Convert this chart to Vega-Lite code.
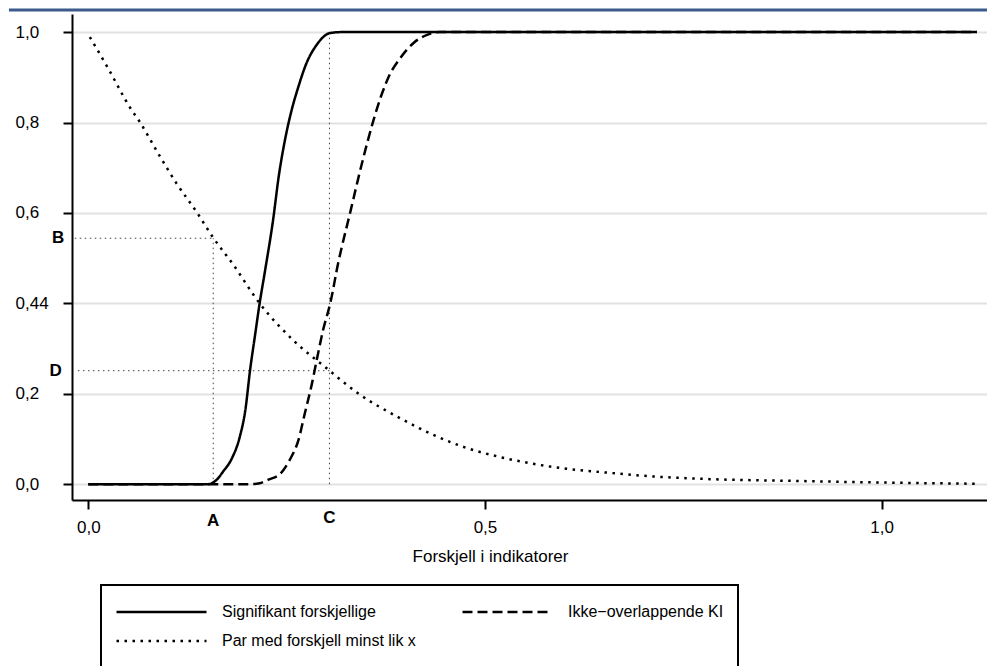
{
  "$schema": "https://vega.github.io/schema/vega-lite/v6.json",
  "width": 915,
  "height": 486,
  "autosize": {"type": "none"},
  "padding": {"left": 72, "top": 14, "right": 0, "bottom": 166},
  "background": "white",
  "config": {
    "font": "Liberation Sans",
    "view": {"stroke": null},
    "legend": {
      "orient": "none",
      "legendX": 29,
      "legendY": 571,
      "columns": 2,
      "symbolType": "stroke",
      "symbolSize": 8100,
      "symbolStrokeWidth": 2.5,
      "symbolStrokeColor": "black",
      "clipHeight": 26,
      "rowPadding": 3,
      "columnPadding": 45,
      "labelFont": "Liberation Sans",
      "labelFontSize": 16,
      "labelColor": "black",
      "labelOffset": 14,
      "labelLimit": 0,
      "padding": 14,
      "strokeColor": "black",
      "strokeWidth": 2
    }
  },
  "datasets": {
    "curves": [
      {"series": "Signifikant forskjellige", "x": 0.0, "y": 0.0},
      {"series": "Signifikant forskjellige", "x": 0.151, "y": 0.0},
      {"series": "Signifikant forskjellige", "x": 0.162, "y": 0.01},
      {"series": "Signifikant forskjellige", "x": 0.170, "y": 0.028},
      {"series": "Signifikant forskjellige", "x": 0.181, "y": 0.057},
      {"series": "Signifikant forskjellige", "x": 0.191, "y": 0.105},
      {"series": "Signifikant forskjellige", "x": 0.198, "y": 0.164},
      {"series": "Signifikant forskjellige", "x": 0.204, "y": 0.253},
      {"series": "Signifikant forskjellige", "x": 0.210, "y": 0.327},
      {"series": "Signifikant forskjellige", "x": 0.216, "y": 0.400},
      {"series": "Signifikant forskjellige", "x": 0.223, "y": 0.474},
      {"series": "Signifikant forskjellige", "x": 0.233, "y": 0.585},
      {"series": "Signifikant forskjellige", "x": 0.240, "y": 0.680},
      {"series": "Signifikant forskjellige", "x": 0.248, "y": 0.762},
      {"series": "Signifikant forskjellige", "x": 0.256, "y": 0.825},
      {"series": "Signifikant forskjellige", "x": 0.265, "y": 0.880},
      {"series": "Signifikant forskjellige", "x": 0.275, "y": 0.931},
      {"series": "Signifikant forskjellige", "x": 0.288, "y": 0.972},
      {"series": "Signifikant forskjellige", "x": 0.305, "y": 0.998},
      {"series": "Signifikant forskjellige", "x": 0.320, "y": 1.0},
      {"series": "Signifikant forskjellige", "x": 1.120, "y": 1.0},
      {"series": "Ikke−overlappende KI", "x": 0.0, "y": 0.0},
      {"series": "Ikke−overlappende KI", "x": 0.205, "y": 0.0},
      {"series": "Ikke−overlappende KI", "x": 0.216, "y": 0.002},
      {"series": "Ikke−overlappende KI", "x": 0.227, "y": 0.010},
      {"series": "Ikke−overlappende KI", "x": 0.242, "y": 0.023},
      {"series": "Ikke−overlappende KI", "x": 0.254, "y": 0.054},
      {"series": "Ikke−overlappende KI", "x": 0.265, "y": 0.098},
      {"series": "Ikke−overlappende KI", "x": 0.273, "y": 0.157},
      {"series": "Ikke−overlappende KI", "x": 0.282, "y": 0.223},
      {"series": "Ikke−overlappende KI", "x": 0.288, "y": 0.275},
      {"series": "Ikke−overlappende KI", "x": 0.296, "y": 0.341},
      {"series": "Ikke−overlappende KI", "x": 0.305, "y": 0.400},
      {"series": "Ikke−overlappende KI", "x": 0.315, "y": 0.489},
      {"series": "Ikke−overlappende KI", "x": 0.330, "y": 0.600},
      {"series": "Ikke−overlappende KI", "x": 0.345, "y": 0.710},
      {"series": "Ikke−overlappende KI", "x": 0.359, "y": 0.802},
      {"series": "Ikke−overlappende KI", "x": 0.369, "y": 0.858},
      {"series": "Ikke−overlappende KI", "x": 0.380, "y": 0.906},
      {"series": "Ikke−overlappende KI", "x": 0.393, "y": 0.942},
      {"series": "Ikke−overlappende KI", "x": 0.410, "y": 0.976},
      {"series": "Ikke−overlappende KI", "x": 0.427, "y": 0.994},
      {"series": "Ikke−overlappende KI", "x": 0.443, "y": 1.0},
      {"series": "Ikke−overlappende KI", "x": 1.120, "y": 1.0},
      {"series": "Par med forskjell minst lik x", "x": 0.002, "y": 0.989},
      {"series": "Par med forskjell minst lik x", "x": 0.025, "y": 0.920},
      {"series": "Par med forskjell minst lik x", "x": 0.053, "y": 0.832},
      {"series": "Par med forskjell minst lik x", "x": 0.065, "y": 0.801},
      {"series": "Par med forskjell minst lik x", "x": 0.088, "y": 0.732},
      {"series": "Par med forskjell minst lik x", "x": 0.111, "y": 0.666},
      {"series": "Par med forskjell minst lik x", "x": 0.137, "y": 0.601},
      {"series": "Par med forskjell minst lik x", "x": 0.156, "y": 0.549},
      {"series": "Par med forskjell minst lik x", "x": 0.183, "y": 0.485},
      {"series": "Par med forskjell minst lik x", "x": 0.216, "y": 0.400},
      {"series": "Par med forskjell minst lik x", "x": 0.258, "y": 0.319},
      {"series": "Par med forskjell minst lik x", "x": 0.300, "y": 0.257},
      {"series": "Par med forskjell minst lik x", "x": 0.340, "y": 0.201},
      {"series": "Par med forskjell minst lik x", "x": 0.393, "y": 0.146},
      {"series": "Par med forskjell minst lik x", "x": 0.435, "y": 0.109},
      {"series": "Par med forskjell minst lik x", "x": 0.477, "y": 0.080},
      {"series": "Par med forskjell minst lik x", "x": 0.519, "y": 0.060},
      {"series": "Par med forskjell minst lik x", "x": 0.561, "y": 0.045},
      {"series": "Par med forskjell minst lik x", "x": 0.603, "y": 0.034},
      {"series": "Par med forskjell minst lik x", "x": 0.645, "y": 0.027},
      {"series": "Par med forskjell minst lik x", "x": 0.704, "y": 0.018},
      {"series": "Par med forskjell minst lik x", "x": 0.771, "y": 0.012},
      {"series": "Par med forskjell minst lik x", "x": 0.897, "y": 0.007},
      {"series": "Par med forskjell minst lik x", "x": 1.023, "y": 0.003},
      {"series": "Par med forskjell minst lik x", "x": 1.118, "y": 0.001}
    ],
    "refs": [
      {"x1": 0.1575, "x2": 0.1575, "y1": 0.0, "y2": 0.544},
      {"x1": -0.017, "x2": 0.1575, "y1": 0.544, "y2": 0.544},
      {"x1": 0.304, "x2": 0.304, "y1": 0.0, "y2": 1.0},
      {"x1": -0.013, "x2": 0.304, "y1": 0.251, "y2": 0.251}
    ],
    "letters": [
      {"label": "A", "x": 0.1575, "y": -0.081},
      {"label": "C", "x": 0.304, "y": -0.075},
      {"label": "B", "x": -0.038, "y": 0.544},
      {"label": "D", "x": -0.041, "y": 0.251}
    ],
    "bar": [
      {"x1": -0.1, "x2": 1.14, "y": 1.049}
    ]
  },
  "layer": [
    {
      "data": {"name": "bar"},
      "mark": {"type": "rule", "color": "#3d5a8c", "strokeWidth": 3},
      "encoding": {
        "x": {"field": "x1", "type": "quantitative"},
        "x2": {"field": "x2"},
        "y": {"field": "y", "type": "quantitative"}
      }
    },
    {
      "data": {"name": "refs"},
      "mark": {"type": "rule", "color": "#444444", "strokeWidth": 1, "strokeDash": [1.5, 3.5]},
      "encoding": {
        "x": {"field": "x1", "type": "quantitative"},
        "x2": {"field": "x2"},
        "y": {"field": "y1", "type": "quantitative"},
        "y2": {"field": "y2"}
      }
    },
    {
      "data": {"name": "curves"},
      "mark": {"type": "line", "color": "black", "strokeWidth": 2.5, "interpolate": "monotone"},
      "encoding": {
        "x": {
          "field": "x", "type": "quantitative",
          "scale": {"domain": [-0.0205, 1.1328], "nice": false, "zero": false},
          "axis": {
            "values": [0, 0.5, 1.0],
            "labelExpr": "replace(format(datum.value, '.1f'), '.', ',')",
            "title": "Forskjell i indikatorer",
            "titleFont": "Liberation Sans",
            "titleFontSize": 17,
            "titleFontWeight": "normal",
            "titleColor": "black",
            "titleX": 418,
            "titleY": 61,
            "titleAlign": "center",
            "titleBaseline": "alphabetic",
            "titleAnchor": null,
            "labelFont": "Liberation Sans",
            "labelFontSize": 17,
            "labelColor": "black",
            "labelPadding": 10,
            "tickSize": 9,
            "tickWidth": 2,
            "tickColor": "black",
            "domainColor": "black",
            "domainWidth": 2,
            "grid": false
          }
        },
        "y": {
          "field": "y", "type": "quantitative",
          "scale": {"domain": [-0.035, 1.04], "nice": false, "zero": false},
          "axis": {
            "values": [0, 0.2, 0.4, 0.6, 0.8, 1.0],
            "labelExpr": "datum.value > 0.39 && datum.value < 0.41 ? '0,44' : replace(format(datum.value, '.1f'), '.', ',')",
            "title": null,
            "labelFont": "Liberation Sans",
            "labelFontSize": 17,
            "labelColor": "black",
            "labelAlign": "left",
            "labelPadding": 48,
            "tickSize": 9,
            "tickWidth": 2,
            "tickColor": "black",
            "domainColor": "black",
            "domainWidth": 2,
            "grid": true,
            "gridColor": "#e2e2e2",
            "gridWidth": 2
          }
        },
        "strokeDash": {
          "field": "series", "type": "nominal",
          "scale": {
            "domain": ["Signifikant forskjellige", "Par med forskjell minst lik x", "Ikke−overlappende KI"],
            "range": [[1, 0], [2.5, 5.5], [10, 5]]
          },
          "legend": {"title": null}
        }
      }
    },
    {
      "data": {"name": "letters"},
      "mark": {"type": "text", "font": "Liberation Sans", "fontSize": 17, "fontWeight": "bold", "color": "black", "align": "center", "baseline": "middle"},
      "encoding": {
        "x": {"field": "x", "type": "quantitative"},
        "y": {"field": "y", "type": "quantitative"},
        "text": {"field": "label"}
      }
    }
  ]
}
